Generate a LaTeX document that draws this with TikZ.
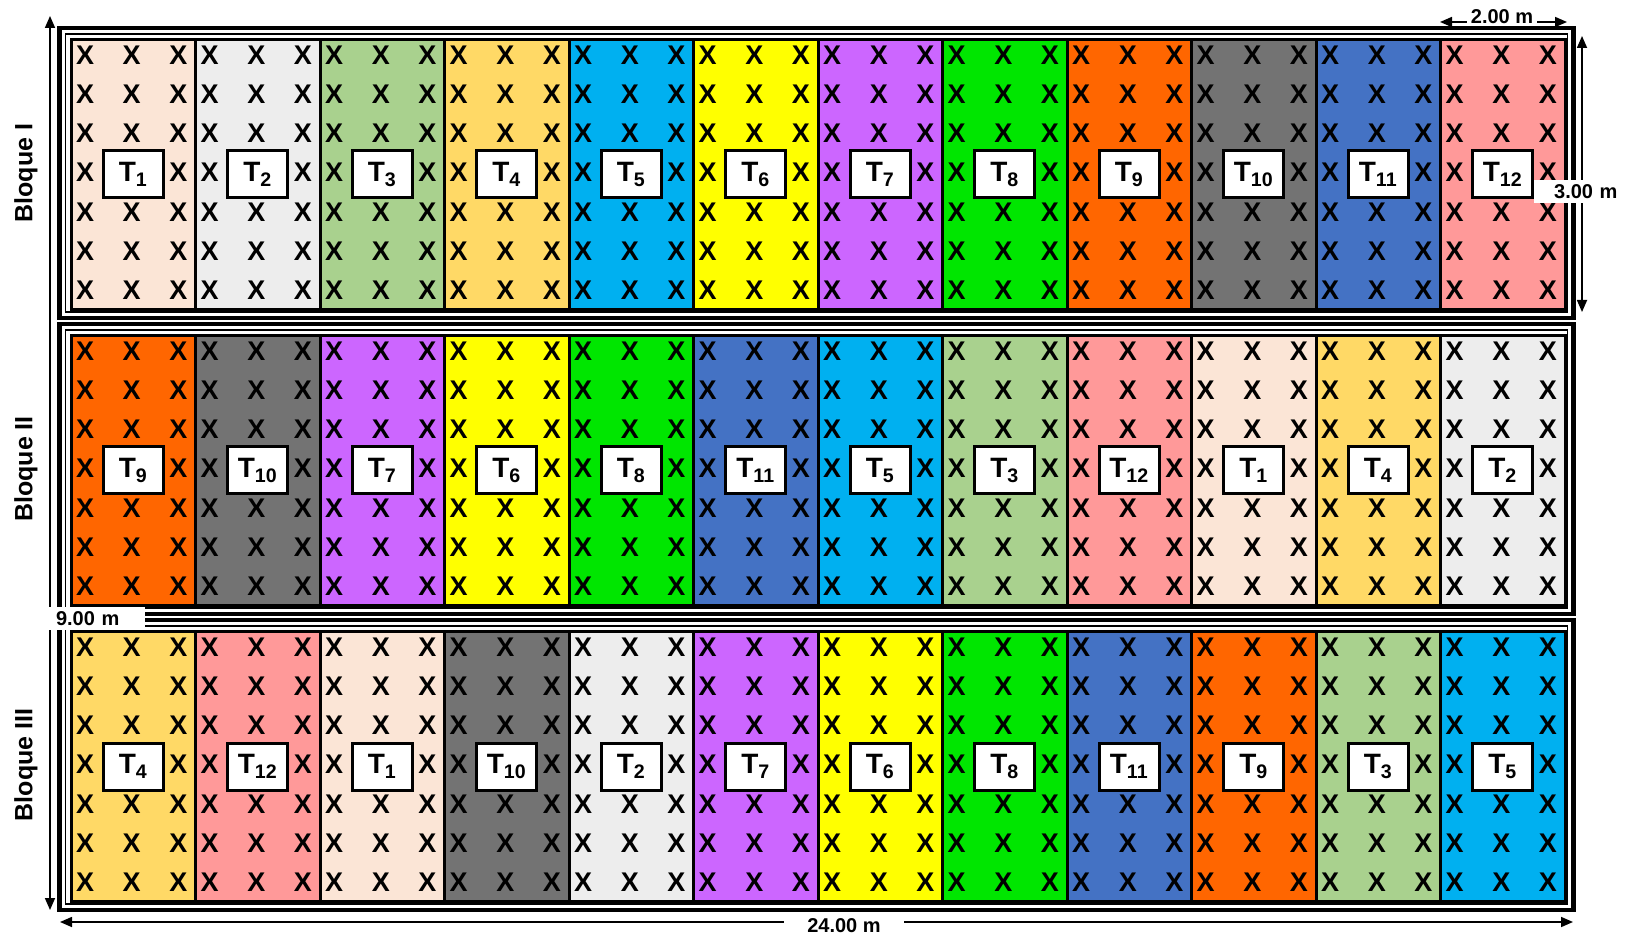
\documentclass[tikz,border=0pt]{standalone}
\usepackage{fontspec}
\setmainfont{Liberation Sans}
\usetikzlibrary{arrows.meta, positioning}

% colores de los tratamientos
\definecolor{tone1}{HTML}{FBE5D6}
\definecolor{tone2}{HTML}{EDEDED}
\definecolor{tone3}{HTML}{A9D18E}
\definecolor{tone4}{HTML}{FFD966}
\definecolor{tone5}{HTML}{00B0F0}
\definecolor{tone6}{HTML}{FFFF00}
\definecolor{tone7}{HTML}{CC66FF}
\definecolor{tone8}{HTML}{00E600}
\definecolor{tone9}{HTML}{FF6600}
\definecolor{tone10}{HTML}{737373}
\definecolor{tone11}{HTML}{4472C4}
\definecolor{tone12}{HTML}{FF9999}

\begin{document}
\begin{tikzpicture}[
    x=0.5pt, y=-0.5pt,
    every node/.style={font=\bfseries\fontsize{12}{14}\selectfont},
    plot/.style={draw, line width=1.5pt, inner sep=0pt, minimum width=62.25pt, minimum height=135pt, anchor=north west},
    plant/.style={inner sep=0pt, font=\bfseries\fontsize{13.5}{15}\selectfont},
    tag/.style={draw, fill=white, line width=1.5pt, inner sep=0pt, minimum width=30pt, minimum height=23.5pt, font=\bfseries\fontsize{14}{16}\selectfont},
    dim/.style={fill=white, inner sep=0pt, font=\bfseries\fontsize{10}{12}\selectfont},
    dimline/.style={{Triangle[length=6pt,width=5pt]}-{Triangle[length=6pt,width=5pt]}, line width=0.8pt}
]
\useasboundingbox (0,0) rectangle (1626,940);

% parcelas por bloque
\foreach \order [count=\b from 0] in {{1,2,3,4,5,6,7,8,9,10,11,12},{9,10,7,6,8,11,5,3,12,1,4,2},{4,12,1,10,2,7,6,8,11,9,3,5}} {
  \pgfmathsetmacro\rowtop{38+296*\b}
  \foreach \t [count=\c from 0] in \order {
    \node[plot, fill=tone\t] (p\b-\c) at ({69.5+124.5*\c},\rowtop) {};
    \foreach \r in {0,1,2,4,5,6}
      \foreach \f [count=\k] in {0.125,0.5,0.875}
        \node[plant] (x\b-\c-\r-\k) at ({69.5+124.5*(\c+\f)},{\rowtop+17+39.2*\r}) {X};
    \foreach \f [count=\k] in {0.125,0.875}
      \node[plant] (x\b-\c-3-\k) at ({69.5+124.5*(\c+\f)},{\rowtop+134.6}) {X};
    \node[tag] (t\b-\c) at (p\b-\c.center) {T\textsubscript{\t}};
  }
  % marco del bloque
  \draw[line width=2.25pt] (59.5,\rowtop-10) rectangle (1573.5,\rowtop+280);
  \draw[line width=0.75pt] (65.5,\rowtop-4) rectangle (1567.5,\rowtop+274);
}

% nombres de bloques
\foreach \name/\yc [count=\b] in {Bloque I/173, Bloque II/469, Bloque III/765}
  \node[rotate=90, font=\bfseries\fontsize{12.5}{14}\selectfont] (bloque\b) at (26,\yc) {\name};

% cotas
\coordinate (top1) at (1440,22);
\coordinate (top2) at (1567,22);
\coordinate (right1) at (1582,36);
\coordinate (right2) at (1582,312);
\coordinate (left1) at (50,16);
\coordinate (left2) at (50,910);
\coordinate (bot1) at (60,922);
\coordinate (bot2) at (1573,922);

\draw[dimline] (top1) -- (top2);
\draw[dimline] (right1) -- (right2);
\draw[dimline] (left1) -- (left2);
\draw[dimline] (bot1) -- (bot2);

\node[dim, inner xsep=1.75pt] (width2) at (1502,17) {2.00 m};
\node[dim, text width=42pt, align=right, minimum height=11.5pt] (height3) at (1575.5,191.5) {3.00 m};
\node[dim, inner xsep=4pt, text width=40.5pt, align=left, minimum height=11.5pt] (height9) at (96.5,618.5) {9.00 m};
\node[dim, inner xsep=11.5pt] (width24) at (844,926) {24.00 m};

\end{tikzpicture}
\end{document}
